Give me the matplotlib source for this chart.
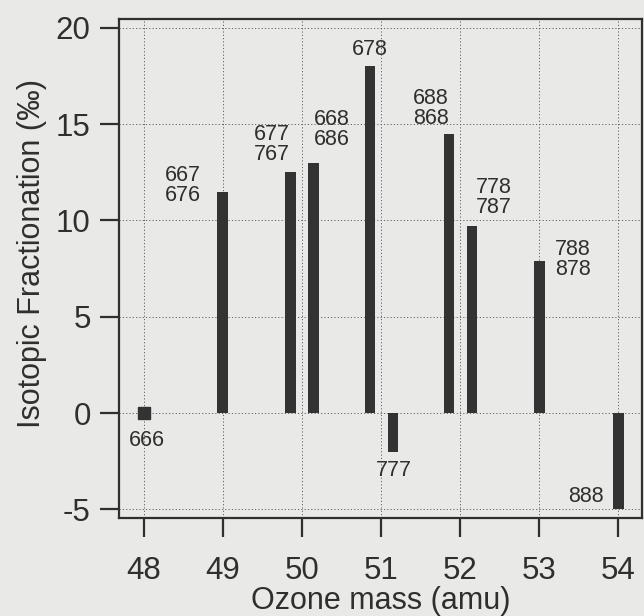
import matplotlib
matplotlib.use("Agg")
import matplotlib.pyplot as plt
import numpy as np

# isotopologue labels, ozone mass and fractionation (permil)
isotopologues = ["666", "667\n676", "677\n767", "668\n686", "678", "777",
                 "688\n868", "778\n787", "788\n878", "888"]
masses = [48, 49, 50, 50, 51, 51, 52, 52, 53, 54]
fractionation = [0.0, 11.5, 12.5, 13.0, 18.0, -2.0, 14.5, 9.7, 7.9, -5.0]

# label offsets from bar end in pixels (dx, dy)
label_offsets = [(3, -27), (-40, 6), (-19, 28), (18, 33), (0, 17),
                 (1, -19), (-18, 25), (22, 29), (34, 1), (-32, 13)]

plt.rcParams["font.family"] = ["Liberation Sans", "DejaVu Sans"]

bg = "#e9e9e7"
ink = "#2f2f2f"

fig = plt.figure(figsize=(6.44, 6.16), dpi=100, facecolor=bg)
ax = fig.add_axes([0.185, 0.159, 0.812, 0.810], facecolor=bg)

# shift the two bars sharing one mass apart
masses = np.array(masses, dtype=float)
xpos = masses.copy()
for m in np.unique(masses):
    idx = np.where(masses == m)[0]
    if len(idx) == 2:
        xpos[idx[0]] -= 0.14
        xpos[idx[1]] += 0.15

vals = np.array(fractionation)
is_ref = vals == 0
ax.bar(xpos[~is_ref], vals[~is_ref], width=0.135, color="#333333", zorder=3)
ax.plot(xpos[is_ref], vals[is_ref], marker="s", markersize=8, color="#333333",
        linestyle="none", zorder=3)

for x, v, lab, (dx, dy) in zip(xpos, vals, isotopologues, label_offsets):
    ax.annotate(lab, (x, v), xytext=(dx, dy), textcoords="offset pixels",
                ha="center", va="center", fontsize=15.5, color=ink,
                linespacing=0.95, zorder=4)

ax.set_xlim(47.69, 54.3)
ax.set_ylim(-5.45, 20.45)
ax.set_xticks(range(48, 55))
ax.set_yticks([-5, 0, 5, 10, 15, 20])
ax.set_yticklabels(["-5", "0", "5", "10", "15", "20"])

ax.grid(True, linestyle=(0, (1.2, 2.2)), linewidth=0.7, color="#606060", zorder=0)
ax.tick_params(axis="both", direction="out", length=13.5, width=1.6,
               color=ink, labelcolor=ink, labelsize=22.5)
ax.tick_params(axis="x", pad=14)
ax.tick_params(axis="y", pad=7)
for s in ax.spines.values():
    s.set_linewidth(1.6)
    s.set_color(ink)

ax.set_xlabel("Ozone mass (amu)", fontsize=22, color=ink, labelpad=0)
ax.set_ylabel("Isotopic Fractionation (‰)", fontsize=22, color=ink)
ax.yaxis.set_label_coords(-0.137, 0.53)

fig.savefig("out.png", dpi=100, facecolor=bg)
